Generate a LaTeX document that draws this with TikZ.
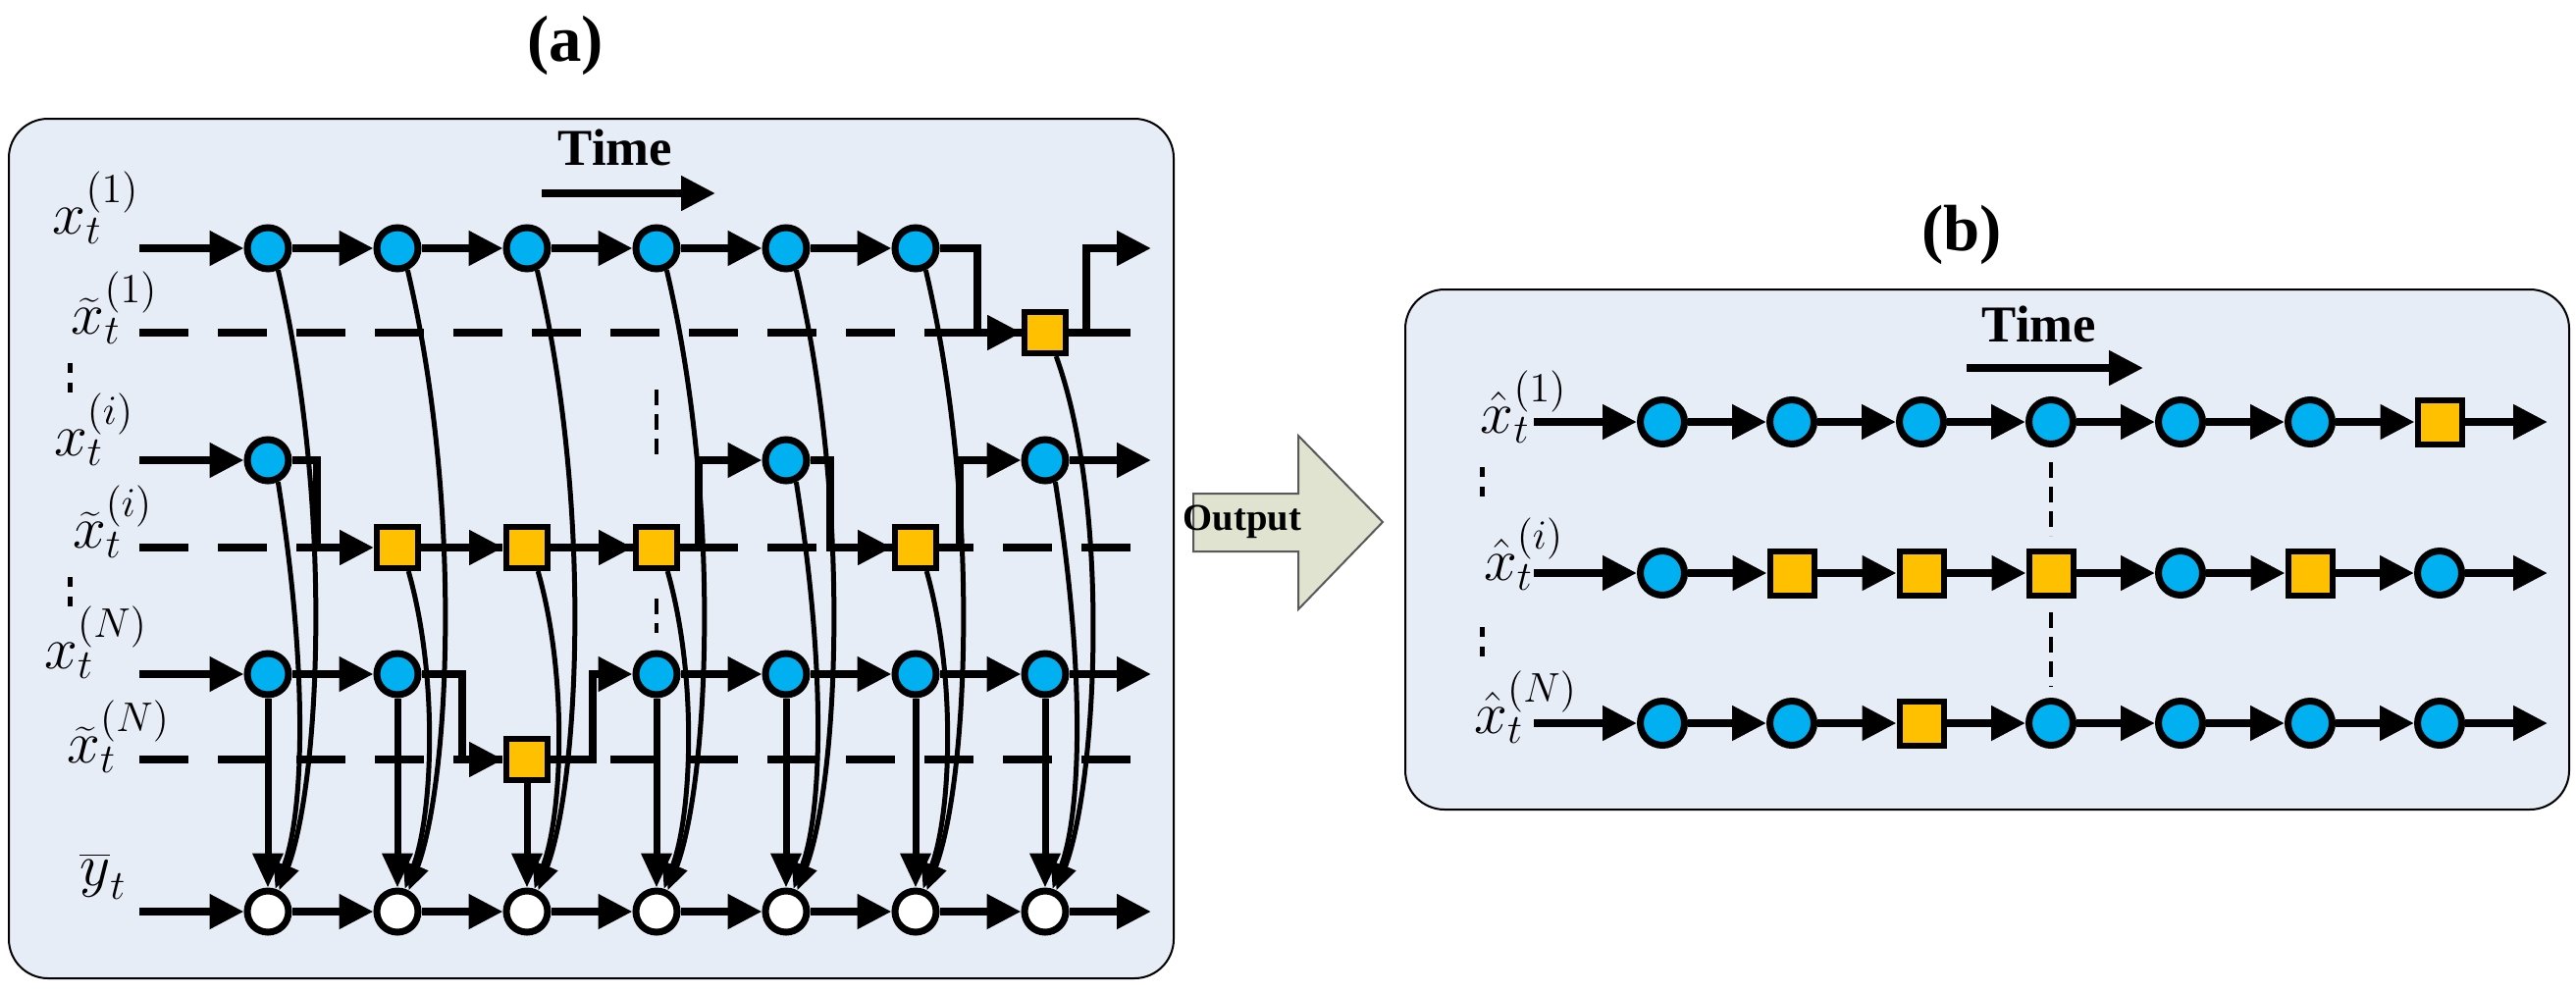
\documentclass[tikz,border=0pt]{standalone}
\usepackage{fontspec}
\setmainfont{Liberation Serif}
\usetikzlibrary{arrows.meta}
\definecolor{cblue}{HTML}{00B0F0}
\definecolor{corange}{HTML}{FFC000}
\definecolor{boxbg}{HTML}{E7EDF7}
\definecolor{outbg}{HTML}{DFE3CF}
\begin{document}
\begin{tikzpicture}[x=0.1mm,y=-0.1mm,
  circ/.style={circle,draw,line width=0.7mm,fill=cblue,minimum size=4.2mm,inner sep=0pt},
  sq/.style={rectangle,draw,line width=0.6mm,fill=corange,minimum size=4.2mm,inner sep=0pt},
  wc/.style={circ,fill=white},
  bcirc/.style={circ,minimum size=4.5mm},
  bsq/.style={sq,minimum size=4.5mm},
  arr/.style={line width=0.8mm,-{Triangle[length=3.5mm,width=3.4mm]}},
  curv/.style={line width=0.5mm,-{Triangle[length=2.6mm,width=2.2mm]}},
  vert/.style={line width=0.7mm,-{Triangle[length=3.5mm,width=3mm]}},
  dsh/.style={line width=0.8mm,dash pattern=on 5mm off 3mm},
  vdots/.style={line width=0.5mm,dash pattern=on 1mm off 1mm},
  vdash/.style={line width=0.45mm,dash pattern=on 1.6mm off 0.9mm},
  boxst/.style={draw=black,line width=0.2mm,fill=boxbg,rounded corners=4mm},
  lab/.style={font=\fontsize{18}{22}\selectfont,inner sep=0pt},
  ttl/.style={font=\fontsize{19}{22}\selectfont\bfseries},
  tim/.style={font=\fontsize{15}{18}\selectfont\bfseries}]
\useasboundingbox (0,0) rectangle (2625,1012);
% ---------- panel (a)
\draw[boxst] (9,121) rectangle (1196,997);
\node[ttl] (ta) at (576,46) {(a)};
\node[tim] (tima) at (627,150) {Time};
\coordinate (tas) at (552,197); \coordinate (tae) at (729,197);
\draw[arr] (tas) -- (tae);
% labels
\node[lab] (l1) at (98,212) {$\displaystyle x_t^{(1)}$};
\node[lab] (l1t) at (117,314) {$\displaystyle \widetilde{x}_t^{(1)}$};
\node[lab] (li) at (96,438) {$\displaystyle x_t^{(i)}$};
\node[lab] (lit) at (115,532) {$\displaystyle \widetilde{x}_t^{(i)}$};
\node[lab] (lN) at (98,655) {$\displaystyle x_t^{(N)}$};
\node[lab] (lNt) at (121,751) {$\displaystyle \widetilde{x}_t^{(N)}$};
\node[lab] (ly) at (105,893) {$\displaystyle \overline{y}_t$};
\draw[vdots] (71,370) -- (71,402);
\draw[vdots] (71,588) -- (71,622);
\draw[vdash] (669,397) -- (669,468);
\draw[vdash] (669,610) -- (669,645);
% dashed rows
\draw[dsh] (142,339) -- (1173,339);
\draw[dsh] (142,558) -- (1165,558);
\draw[dsh] (142,774) -- (1173,774);
% nodes
\foreach \k in {1,...,6} \node[circ] (n1\k) at ({273+132*(\k-1)},253) {};
\node[sq] (n17) at (1065,339) {};
\node[circ] (ni1) at (273,469) {};
\node[sq] (ni2) at (405,558) {};
\node[sq] (ni3) at (537,558) {};
\node[sq] (ni4) at (669,558) {};
\node[circ] (ni5) at (801,469) {};
\node[sq] (ni6) at (933,558) {};
\node[circ] (ni7) at (1065,469) {};
\node[circ] (nN1) at (273,687) {};
\node[circ] (nN2) at (405,687) {};
\node[sq] (nN3) at (537,774) {};
\foreach \k in {4,...,7} \node[circ] (nN\k) at ({273+132*(\k-1)},687) {};
\foreach \k in {1,...,7} \node[wc] (y\k) at ({273+132*(\k-1)},929) {};
% start/end coordinates
\coordinate (s1) at (142,253); \coordinate (e1) at (1173,253);
\coordinate (si) at (142,469); \coordinate (ei) at (1173,469);
\coordinate (sN) at (142,687); \coordinate (eN) at (1173,687);
\coordinate (sy) at (142,929); \coordinate (ey) at (1173,929);
% x1 channel
\draw[arr] (s1) -- (n11);
\foreach \a/\b in {1/2,2/3,3/4,4/5,5/6} \draw[arr] (n1\a) -- (n1\b);
\draw[arr] (n16) -- (996,253) |- (n17);
\draw[arr] (n17) -- (1107,339) -- (1107,253) -- (e1);
% xi channel
\draw[arr] (si) -- (ni1);
\draw[arr] (ni1) -- (323,469) |- (ni2);
\draw[arr] (ni2) -- (ni3);
\draw[arr] (ni3) -- (ni4);
\draw[arr] (ni4) -- (712,558) |- (ni5);
\draw[arr] (ni5) -- (846,469) |- (ni6);
\draw[arr] (ni6) -- (978,558) |- (ni7);
\draw[arr] (ni7) -- (ei);
% xN channel
\draw[arr] (sN) -- (nN1);
\draw[arr] (nN1) -- (nN2);
\draw[arr] (nN2) -- (471,687) |- (nN3);
\draw[arr] (nN3) -- (604,774) |- (nN4);
\foreach \a/\b in {4/5,5/6,6/7} \draw[arr] (nN\a) -- (nN\b);
\draw[arr] (nN7) -- (eN);
% y channel
\draw[arr] (sy) -- (y1);
\foreach \a/\b in {1/2,2/3,3/4,4/5,5/6,6/7} \draw[arr] (y\a) -- (y\b);
\draw[arr] (y7) -- (ey);
% verticals and curves
\foreach \k in {1,...,7} {
  \pgfmathsetmacro{\cx}{273+132*(\k-1)}
  \draw[vert] (nN\k) -- (y\k);
  \draw[curv] (n1\k.-65) .. controls (\cx+68,520) and (\cx+52,800) .. (y\k.62);
  \draw[curv] (ni\k.-65) .. controls (\cx+42,690) and (\cx+36,830) .. (y\k.72);
}
% ---------- output arrow
\draw[draw=gray!70!black,line width=0.2mm,fill=outbg] (1216,503) -- (1323,503) -- (1323,444) -- (1409,532) -- (1323,621) -- (1323,562) -- (1216,562) -- cycle;
\node[font=\fontsize{11}{13}\selectfont\bfseries] (out) at (1266,532) {Output};
% ---------- panel (b)
\draw[boxst] (1432,295) rectangle (2618,825);
\node[ttl] (tb) at (1999,239) {(b)};
\node[tim] (timb) at (2078,330) {Time};
\coordinate (tbs) at (2004,375); \coordinate (tbe) at (2184,375);
\draw[arr] (tbs) -- (tbe);
\node[lab] (b1) at (1553,415) {$\displaystyle \hat{x}_t^{(1)}$};
\node[lab] (bi) at (1553,565) {$\displaystyle \hat{x}_t^{(i)}$};
\node[lab] (bN) at (1555,721) {$\displaystyle \hat{x}_t^{(N)}$};
\draw[vdots] (1510,476) -- (1510,510);
\draw[vdots] (1510,639) -- (1510,673);
\draw[vdash] (2090,471) -- (2090,546);
\draw[vdash] (2090,624) -- (2090,700);
\foreach \r/\yy/\types in {a/430/{c,c,c,c,c,c,s},b/584/{c,s,s,s,c,s,c},c/737/{c,c,s,c,c,c,c}} {
  \foreach \t [count=\k] in \types {
    \if s\t \node[bsq] (b\r\k) at ({1694+132*(\k-1)},\yy) {};
    \else \node[bcirc] (b\r\k) at ({1694+132*(\k-1)},\yy) {};
    \fi
  }
  \coordinate (bs\r) at (1563,\yy);
  \coordinate (be\r) at (2596,\yy);
  \draw[arr] (bs\r) -- (b\r1);
  \foreach \a/\b in {1/2,2/3,3/4,4/5,5/6,6/7} \draw[arr] (b\r\a) -- (b\r\b);
  \draw[arr] (b\r7) -- (be\r);
}
\end{tikzpicture}
\end{document}
